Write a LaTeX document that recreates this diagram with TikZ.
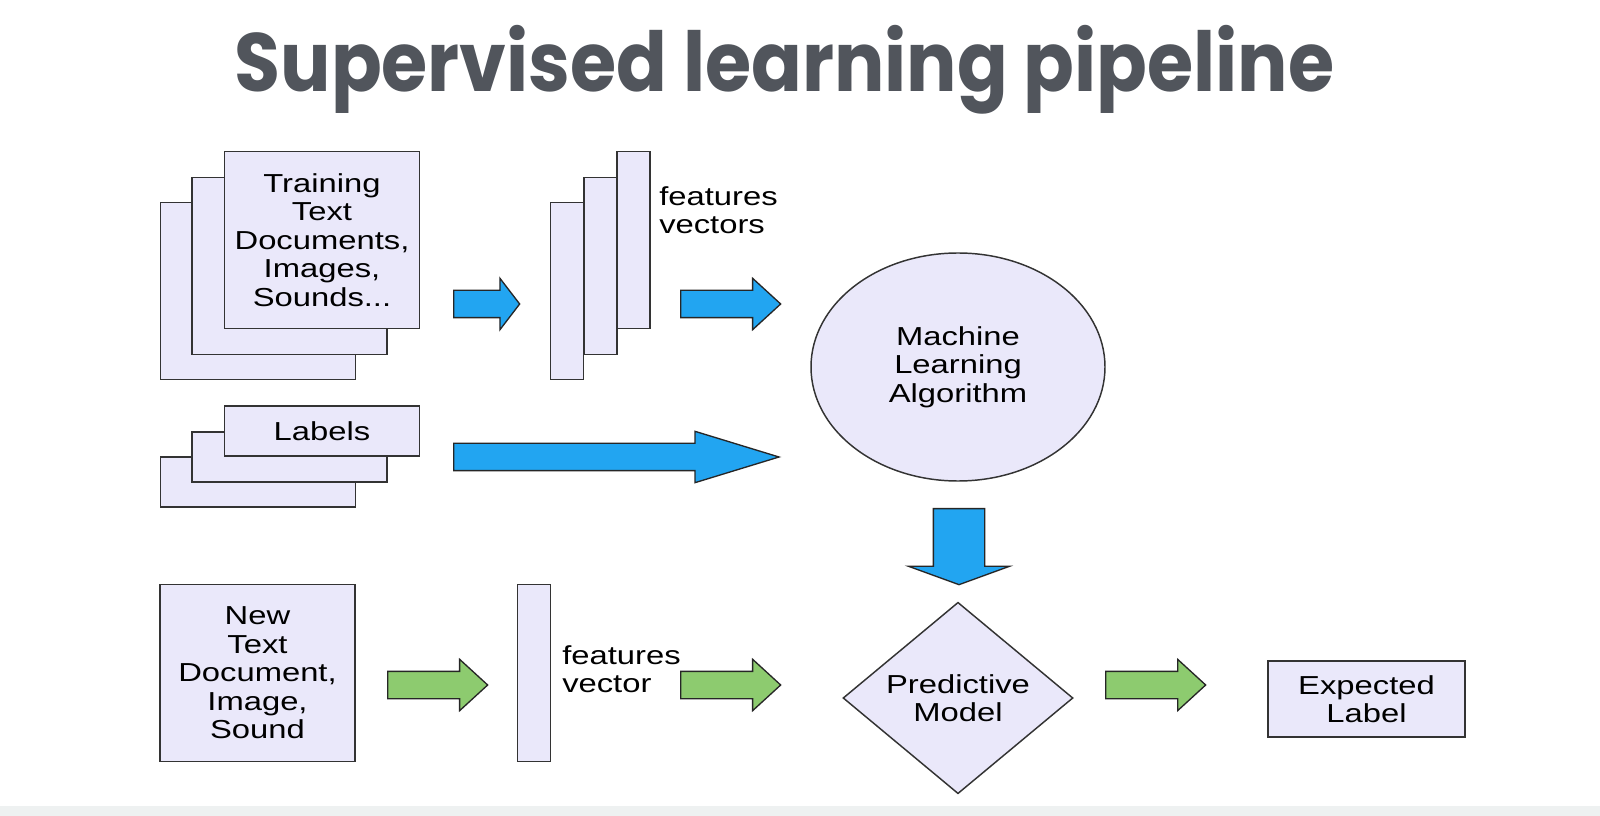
\documentclass[tikz,border=0pt]{standalone}
\usepackage{fontspec}
\setmainfont{Liberation Sans}
\newfontfamily\diagfont[FakeStretch=1.26]{Liberation Sans}
\newfontfamily\titlefont[FakeStretch=0.905]{Poppins}
\usetikzlibrary{positioning,shapes.geometric,shapes.arrows}
\definecolor{lavender}{HTML}{EAE8FA}
\definecolor{arrowblue}{HTML}{22A5F1}
\definecolor{arrowgreen}{HTML}{8DCB6F}
\definecolor{titlegray}{HTML}{51555C}
\definecolor{stripgray}{HTML}{EEF1F1}

\begin{document}
\begin{tikzpicture}
[
x=0.75pt, y=-0.75pt,
textnode/.style={inner sep=0, align=center, font=\diagfont\fontsize{19.5pt}{21.4pt}\selectfont},
docnode/.style={textnode, rectangle, draw=black!80, fill=lavender, line width=1.1pt},
bignode/.style={docnode, minimum width=146.5pt, minimum height=133pt},
smallnode/.style={docnode, minimum width=146.5pt, minimum height=37.5pt},
vecnode/.style={docnode, minimum width=25pt, minimum height=133pt},
blockarrow/.style={single arrow, draw=black!85, line width=1pt, inner sep=0,
  text height=19.5pt, text depth=0pt, single arrow head extend=9pt, anchor=tail},
bluearrow/.style={blockarrow, fill=arrowblue},
greenarrow/.style={blockarrow, fill=arrowgreen, single arrow tip angle=85, minimum height=75pt}
]
\useasboundingbox (0,0) rectangle (1600,816);
\fill[stripgray] (0,806) rectangle (1600,816);

\node[font=\titlefont\bfseries\fontsize{62pt}{70pt}\selectfont, text=titlegray, anchor=base] (title) at (784.5,92) {Supervised learning pipeline};

% training documents
\node[bignode] (train3) at (258,291) {};
\node[bignode] (train2) at (289.5,266) {};
\node[bignode] (train1) at (322,240) {Training\\Text\\Documents,\\Images,\\Sounds...};
\node[bluearrow, single arrow tip angle=105, minimum height=49.5pt] (arrtrain) at (453,304) {};

% features vectors
\node[vecnode] (vec3) at (567,291) {};
\node[vecnode] (vec2) at (600.5,266) {};
\node[vecnode] (vec1) at (633.5,240) {};
\node[textnode, align=left, anchor=west] (vectext) at (659,210) {features\\vectors};
\node[bluearrow, single arrow tip angle=85, minimum height=75pt] (arrvec) at (680,304) {};

% labels
\node[smallnode] (lab3) at (258,482) {};
\node[smallnode] (lab2) at (289.5,457) {};
\node[smallnode] (lab1) at (322,431) {Labels};
\node[bluearrow, single arrow tip angle=34, minimum height=244pt] (arrlab) at (453,457) {};

% learning
\node[textnode, ellipse, draw=black!80, fill=lavender, line width=1.1pt,
  minimum width=220.5pt, minimum height=171pt] (algo) at (958,367) {Machine\\Learning\\Algorithm};
\node[bluearrow, rotate=-90, text height=37.5pt, single arrow head extend=18.75pt,
  single arrow tip angle=140, minimum height=57pt] (arralgo) at (959,508) {};

% prediction
\node[bignode] (newdoc) at (257.5,673) {New\\Text\\Document,\\Image,\\Sound};
\node[greenarrow] (arrnew) at (387,685) {};
\node[vecnode] (newvec) at (534,673) {};
\node[textnode, align=left, anchor=west] (newtext) at (562,669) {features\\vector};
\node[greenarrow] (arrnewvec) at (680,685) {};
\node[textnode, diamond, draw=black!80, fill=lavender, line width=1.1pt,
  minimum width=172.5pt, minimum height=132.75pt] (model) at (958,698) {Predictive\\Model};
\node[greenarrow] (arrmodel) at (1105,685) {};
\node[docnode, minimum width=147.75pt, minimum height=57pt] (expected) at (1366.5,699) {Expected\\Label};
\end{tikzpicture}
\end{document}
